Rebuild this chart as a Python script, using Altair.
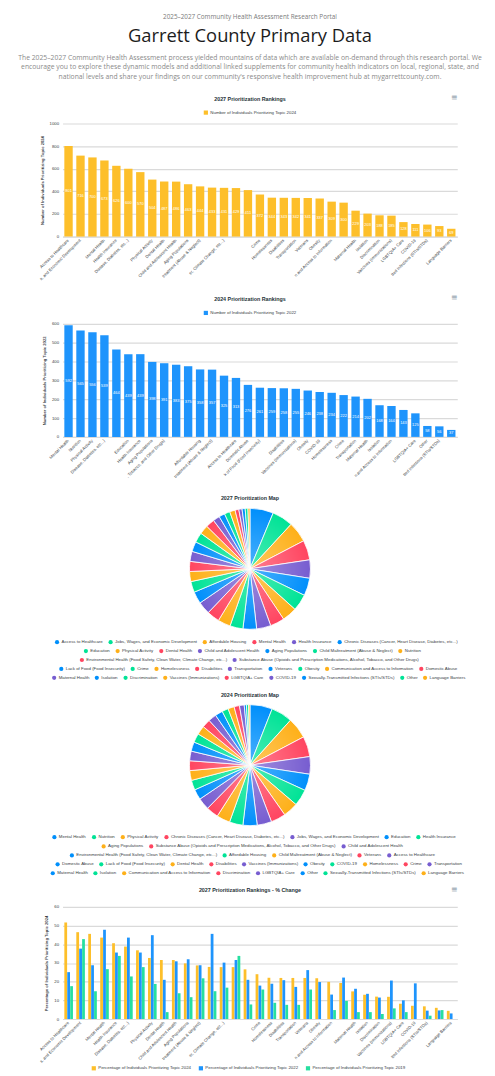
import json
import altair as alt
import pandas as pd

# ---------------- text ----------------
kicker = "2025–2027 Community Health Assessment Research Portal"
page_title = "Garrett County Primary Data"
intro_lines = [
    "The 2025–2027 Community Health Assessment process yielded mountains of data which are available on-demand through this research portal. We",
    "encourage you to explore these dynamic models and additional linked supplements for community health indicators on local, regional, state, and",
    "national levels and share your findings on our community's responsive health improvement hub at mygarrettcounty.com.",
]

# ---------------- data ----------------
cats_2027 = [
    "Access to Healthcare", "Jobs, Wages, and Economic Development", "Affordable Housing", "Mental Health",
    "Health Insurance", "Chronic Diseases (Cancer, Heart Disease, Diabetes, etc...)", "Education",
    "Physical Activity", "Dental Health", "Child and Adolescent Health", "Aging Populations",
    "Child Maltreatment (Abuse & Neglect)", "Nutrition",
    "Environmental Health (Food Safety, Clean Water, Climate Change, etc...)",
    "Substance Abuse (Opioids and Prescription Medications, Alcohol, Tobacco, and Other Drugs)",
    "Lack of Food (Food Insecurity)", "Crime", "Homelessness", "Disabilities", "Transportation", "Veterans",
    "Obesity", "Communication and Access to Information", "Domestic Abuse", "Maternal Health", "Isolation",
    "Discrimination", "Vaccines (Immunizations)", "LGBTQIA+ Care", "COVID-19",
    "Sexually-Transmitted Infections (STIs/STDs)", "Other", "Language Barriers",
]
counts_2024 = [801, 716, 700, 673, 626, 600, 570, 504, 487, 486, 463, 444, 433, 431, 429, 411, 372,
               344, 343, 342, 341, 337, 309, 300, 229, 203, 188, 185, 128, 111, 106, 93, 69]

cats_2024 = [
    "Mental Health", "Nutrition", "Physical Activity", "Chronic Diseases (Cancer, Heart Disease, Diabetes, etc...)",
    "Jobs, Wages, and Economic Development", "Education", "Health Insurance", "Aging Populations",
    "Substance Abuse (Opioids and Prescription Medications, Alcohol, Tobacco, and Other Drugs)",
    "Child and Adolescent Health",
    "Environmental Health (Food Safety, Clean Water, Climate Change, etc...)", "Affordable Housing",
    "Child Maltreatment (Abuse & Neglect)", "Veterans", "Access to Healthcare", "Domestic Abuse",
    "Lack of Food (Food Insecurity)", "Dental Health", "Disabilities", "Vaccines (Immunizations)", "Obesity",
    "COVID-19", "Homelessness", "Crime", "Transportation", "Maternal Health", "Isolation",
    "Communication and Access to Information", "Discrimination", "LGBTQIA+ Care", "Other",
    "Sexually-Transmitted Infections (STIs/STDs)", "Language Barriers",
]
counts_2022 = [592, 565, 556, 539, 464, 439, 439, 398, 391, 383, 375, 358, 357, 325, 313, 276, 261,
               259, 258, 255, 246, 238, 234, 222, 214, 202, 168, 164, 143, 125, 58, 56, 37]

# percentage change chart (categories in cats_2027 order)
pct_2024 = [51.7, 46.5, 45.6, 43.6, 40.6, 38.8, 36.8, 32.7, 31.6, 31.6, 29.8, 28.7, 27.9, 27.8, 27.8,
            26.6, 24.0, 22.1, 22.0, 22.0, 22.0, 21.8, 19.9, 19.3, 14.8, 13.0, 12.0, 11.9, 8.2, 7.1,
            6.8, 6.0, 4.4]
pct_2022 = [25.1, 37.7, 28.8, 47.8, 35.6, 43.6, 35.6, 44.9, 21.0, 30.9, 32.0, 28.8, 45.6, 30.2, 31.6,
            21.0, 17.9, 18.9, 20.8, 17.2, 26.2, 19.8, 13.1, 22.2, 16.2, 13.5, 11.5, 20.6, 10.0, 19.1,
            4.5, 4.6, 3.0]
pct_2019 = [17.6, 42.8, 14.9, 26.7, 33.8, 22.8, 27.8, 18.8, 3.7, 13.8, 11.7, 21.8, 14.9, 16.8, 33.8,
            7.8, 15.8, 8.7, 7.6, 7.6, 15.8, None, 4.8, 9.7, 3.7, 3.7, 2.7, 5.7, 3.7, None, 1.8, 4.8, None]

series_2027 = "Number of Individuals Prioritizing Topic 2024"
series_2024 = "Number of Individuals Prioritizing Topic 2022"
pct_series = ["Percentage of Individuals Prioritizing Topic 2024",
              "Percentage of Individuals Prioritizing Topic 2022",
              "Percentage of Individuals Prioritizing Topic 2019"]

# axis labels hidden in the reference (overlap handling)
hidden_2027 = ["Affordable Housing", "Education", "Nutrition",
               "Substance Abuse (Opioids and Prescription Medications, Alcohol, Tobacco, and Other Drugs)",
               "Lack of Food (Food Insecurity)", "Domestic Abuse", "Other"]
hidden_2024 = ["Jobs, Wages, and Economic Development", "Child and Adolescent Health",
               "Environmental Health (Food Safety, Clean Water, Climate Change, etc...)", "Veterans",
               "Dental Health", "Discrimination", "Language Barriers"]

# legend rows of the pie charts
rows_2027 = [6, 7, 2, 9, 9]
rows_2024 = [7, 3, 5, 10, 8]

# ---------------- style ----------------
W = 398
CX = 189
FONT = "Liberation Sans"
TXT = "#373d3f"
YELLOW = "#FDBF2A"
BLUE = "#1E94FC"
GREEN = "#26DFA0"
PALETTE = ["#008FFB", "#00E396", "#FEB019", "#FF4560", "#775DD0"]
LEG_FS = 4.4
CW = 2.05


def text_layer(txt, x, y, **kw):
    return alt.Chart(pd.DataFrame({"t": [txt]})).mark_text(**kw).encode(
        text="t:N", x=alt.value(x), y=alt.value(y))


def title_layer(txt, y):
    return text_layer(txt, CX, y, fontSize=5.4, fontWeight="bold", font=FONT, color="#263238")


def menu_layer(y):
    return text_layer("≡", 395, y, fontSize=8, font="DejaVu Sans", color="#6E8192")


def x_axis(hidden, n=27):
    expr = (f"indexof({json.dumps(hidden)}, datum.value) >= 0 ? '' : "
            f"(length(datum.label) > {n} ? substring(datum.label, length(datum.label) - {n}) : datum.label)")
    return alt.Axis(title=None, labelAngle=-45, labelAlign="right", labelBaseline="middle",
                    labelFontSize=4.2, labelColor=TXT, labelPadding=3, labelExpr=expr,
                    labelOverlap=False, labelLimit=300, ticks=False, domain=True,
                    domainColor="#dcdcdc", grid=False)


def y_axis(title, values):
    return alt.Axis(title=title, values=values, format="d", labelFontSize=4.3, labelColor=TXT,
                    labelPadding=4, labelOverlap=False, titleFontSize=4.2, titleFontWeight="bold",
                    titleColor=TXT, titlePadding=5, grid=True, gridColor="#dadada", gridWidth=1.2,
                    domain=False, ticks=False)


def legend(x, y, symbol="square", pad=5):
    return alt.Legend(orient="none", legendX=x, legendY=y, direction="horizontal", title=None,
                      symbolType=symbol, symbolSize=18, symbolStrokeWidth=0, labelFontSize=LEG_FS,
                      labelColor=TXT, labelOffset=2, labelLimit=500, columnPadding=pad)


# ---------------- header ----------------
header = alt.layer(
    text_layer(kicker, CX, 4, fontSize=6.4, font="Open Sans", color="#7a7a7a"),
    text_layer(page_title, CX, 23, fontSize=18.5, font="Open Sans", color="#1c1c1c"),
    text_layer(intro_lines[0], CX, 45, fontSize=6.85, font="Open Sans", color="#8a8a8a"),
    text_layer(intro_lines[1], CX, 54.5, fontSize=6.85, font="Open Sans", color="#8a8a8a"),
    text_layer(intro_lines[2], CX, 64, fontSize=6.85, font="Open Sans", color="#8a8a8a"),
    alt.Chart(pd.DataFrame({"k": [0]})).mark_rule(color="white", strokeWidth=0.1).encode(
        x=alt.value(-54), x2=alt.value(420), y=alt.value(0)),
).properties(width=W, height=23)


# ---------------- bar panels ----------------
def bar_panel(cats, vals, series, color, title, ymax, ystep, ytitle, hidden):
    df = pd.DataFrame({"category": cats, "value": vals, "series": series})
    x = alt.X("category:N", sort=cats, scale=alt.Scale(paddingInner=0.3, paddingOuter=0.15),
              axis=x_axis(hidden))
    yscale = alt.Scale(domain=[0, ymax])
    yaxis = y_axis(ytitle, list(range(0, ymax + 1, ystep)))
    bars = alt.Chart(df).mark_bar().encode(
        x=x,
        y=alt.Y("value:Q", scale=yscale, axis=yaxis),
        color=alt.Color("series:N", scale=alt.Scale(domain=[series], range=[color]),
                        legend=legend(142, -13.5)),
    )
    labels = alt.Chart(df).transform_calculate(mid="datum.value / 2").mark_text(
        color="white", fontSize=4, font=FONT).encode(
        x=x,
        y=alt.Y("mid:Q", scale=yscale, axis=yaxis),
        text="value:Q",
    )
    return alt.layer(bars, labels, title_layer(title, -25), menu_layer(-26)).properties(
        width=W, height=114)


p1 = bar_panel(cats_2027, counts_2024, series_2027, YELLOW, "2027 Prioritization Rankings", 1000, 200,
               "Number of Individuals Prioritizing Topic 2024", hidden_2027)
p2 = bar_panel(cats_2024, counts_2022, series_2024, BLUE, "2024 Prioritization Rankings", 600, 100,
               "Number of Individuals Prioritizing Topic 2022", hidden_2024)


# ---------------- pie panels ----------------
def pie_panel(cats, vals, rows, title, cy, title_y, row_y, height):
    df = pd.DataFrame({"category": cats, "value": vals, "idx": list(range(len(cats)))})
    total = sum(vals)
    layers = []
    start = 0
    for r, n in enumerate(rows):
        sub = cats[start:start + n]
        cols = [PALETTE[(start + k) % 5] for k in range(n)]
        est = sum(len(c) * CW + 6.5 for c in sub) + (n - 1) * 5
        lx = CX + 1 - est / 2
        layer = alt.Chart(df).transform_window(
            cum="sum(value)", sort=[alt.SortField("idx")], frame=[None, 0]
        ).transform_calculate(
            st="datum.cum - datum.value"
        ).transform_filter(
            alt.FieldOneOfPredicate(field="category", oneOf=sub)
        ).mark_arc(outerRadius=61, stroke="white", strokeWidth=0.8).encode(
            theta=alt.Theta("st:Q", scale=alt.Scale(domain=[0, total])),
            theta2="cum:Q",
            color=alt.Color("category:N", scale=alt.Scale(domain=sub, range=cols),
                            legend=legend(lx, row_y[r] - 2.4, symbol="circle")),
            x=alt.value(CX), y=alt.value(cy),
        )
        layers.append(layer)
        start += n
    shade = alt.Chart(pd.DataFrame({"k": [0]})).mark_arc(
        theta=0, theta2=6.2832, outerRadius=61,
        fill=alt.RadialGradient(gradient="radial",
                                stops=[alt.GradientStop(color="rgba(255,255,255,0.30)", offset=0),
                                       alt.GradientStop(color="rgba(255,255,255,0)", offset=1)],
                                x1=0.5, y1=0.5, r1=0, x2=0.5, y2=0.5, r2=0.5),
    ).encode(x=alt.value(CX), y=alt.value(cy))
    layers.append(shade)
    layers.append(title_layer(title, title_y))
    return alt.layer(*layers).resolve_scale(color="independent").properties(width=W, height=height)


p3 = pie_panel(cats_2027, counts_2024, rows_2027, "2027 Prioritization Map", 45, -26,
               [118.7, 127.7, 136.7, 145.7, 154.7], 105)
p4 = pie_panel(cats_2024, counts_2022, rows_2024, "2024 Prioritization Map", 50, -21,
               [122.3, 131.7, 140.7, 149.7, 158.7], 105)

# ---------------- % change panel ----------------
df5 = pd.DataFrame({
    "category": cats_2027 * 3,
    "series": [pct_series[0]] * 33 + [pct_series[1]] * 33 + [pct_series[2]] * 33,
    "value": pct_2024 + pct_2022 + pct_2019,
})
bars5 = alt.Chart(df5).mark_bar().encode(
    x=alt.X("category:N", sort=cats_2027, scale=alt.Scale(paddingInner=0.28, paddingOuter=0.15),
            axis=x_axis(hidden_2027)),
    xOffset=alt.XOffset("series:N", sort=pct_series, scale=alt.Scale(paddingInner=0.05)),
    y=alt.Y("value:Q", scale=alt.Scale(domain=[0, 60]),
            axis=y_axis("Percentage of Individuals Prioritizing Topic 2024", list(range(0, 61, 10)))),
    color=alt.Color("series:N", sort=pct_series,
                    scale=alt.Scale(domain=pct_series, range=[YELLOW, BLUE, GREEN]),
                    legend=legend(29, 160, pad=7)),
)
p5 = alt.layer(bars5, title_layer("2027 Prioritization Rankings - % Change", -17), menu_layer(-17)).properties(
    width=W, height=113)

chart = alt.vconcat(header, p1, p2, p3, p4, p5, spacing=88, bounds="flush").resolve_scale(
    color="independent", xOffset="independent", theta="independent"
).properties(
    padding={"left": 0, "top": 0, "right": 5, "bottom": 5}
).configure(font=FONT).configure_view(stroke=None)

chart.save("out.html", embed_options={"renderer": "svg", "actions": False})
